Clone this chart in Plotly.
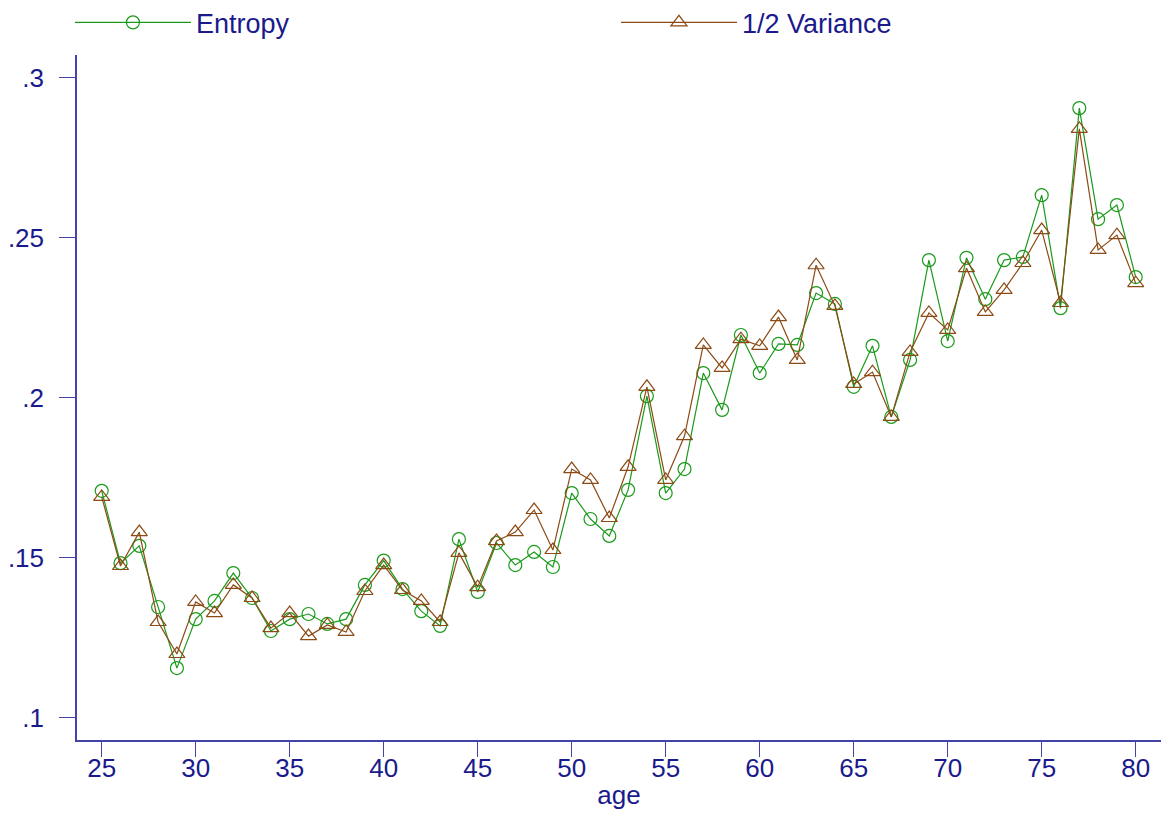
import plotly.graph_objects as go

age = list(range(25, 81))

entropy = [
    0.1709, 0.1483, 0.1537, 0.1346, 0.1155, 0.1308, 0.1365, 0.1452, 0.1374, 0.1271,
    0.1308, 0.1324, 0.1293, 0.1308, 0.1415, 0.1491, 0.1402, 0.1333, 0.1287, 0.1558,
    0.1393, 0.1546, 0.1477, 0.1518, 0.1471, 0.1702, 0.1621, 0.1568, 0.1712, 0.2005,
    0.1702, 0.1777, 0.2077, 0.1962, 0.2196, 0.2077, 0.2168, 0.2165, 0.2327, 0.2293,
    0.2034, 0.2162, 0.1940, 0.2118, 0.2430, 0.2177, 0.2437, 0.2308, 0.2430, 0.2440,
    0.2633, 0.2280, 0.2905, 0.2558, 0.2602, 0.2377,
]

half_variance = [
    0.1690, 0.1474, 0.1580, 0.1299, 0.1199, 0.1362, 0.1327, 0.1415, 0.1374, 0.1280,
    0.1327, 0.1255, 0.1290, 0.1268, 0.1396, 0.1477, 0.1399, 0.1365, 0.1299, 0.1515,
    0.1408, 0.1552, 0.1580, 0.1649, 0.1524, 0.1777, 0.1743, 0.1624, 0.1784, 0.2034,
    0.1743, 0.1880, 0.2165, 0.2093, 0.2183, 0.2162, 0.2252, 0.2118, 0.2414, 0.2287,
    0.2043, 0.2080, 0.1940, 0.2143, 0.2265, 0.2212, 0.2405, 0.2268, 0.2337, 0.2421,
    0.2524, 0.2296, 0.2840, 0.2462, 0.2508, 0.2358,
]

x_ticks = [25, 30, 35, 40, 45, 50, 55, 60, 65, 70, 75, 80]
y_ticks = [0.1, 0.15, 0.2, 0.25, 0.3]
y_tick_labels = [".1", ".15", ".2", ".25", ".3"]

GREEN = "#1a9a1a"
BROWN = "#8c4a14"
NAVY = "#1a1a8c"
AXIS = "#4444a8"
FONT = "Liberation Sans, Arial, sans-serif"

fig = go.Figure()
fig.add_trace(go.Scatter(
    x=age, y=entropy, name="Entropy", mode="lines+markers",
    line=dict(color=GREEN, width=1.2),
    marker=dict(symbol="circle-open", size=13, color=GREEN, line=dict(width=1.2)),
))
fig.add_trace(go.Scatter(
    x=age, y=half_variance, name="1/2 Variance", mode="lines+markers",
    line=dict(color=BROWN, width=1.2),
    marker=dict(symbol="triangle-up-open", size=14, color=BROWN, line=dict(width=1.2)),
))

fig.update_layout(
    width=1166, height=814,
    margin=dict(l=77, r=5, t=55, b=74, autoexpand=False),
    paper_bgcolor="white", plot_bgcolor="white",
    font=dict(family=FONT, size=26, color=NAVY),
    legend=dict(
        orientation="h", x=-0.0065, xanchor="left", y=1.047, yanchor="middle",
        itemwidth=116, entrywidth=415, entrywidthmode="pixels",
        font=dict(family=FONT, size=27, color=NAVY),
        bgcolor="rgba(0,0,0,0)", tracegroupgap=0,
    ),
    xaxis=dict(
        range=[23.686, 81.346], tickvals=x_ticks,
        showline=True, linecolor=AXIS, linewidth=1.5, mirror=False,
        ticks="outside", ticklen=15, tickcolor=AXIS, tickwidth=1,
        showgrid=False, zeroline=False,
        tickfont=dict(family=FONT, size=26, color=NAVY),
        ticklabelstandoff=-11,
        title=dict(text="age", font=dict(family=FONT, size=26, color=NAVY), standoff=4),
    ),
    yaxis=dict(
        range=[0.09303, 0.3071], tickvals=y_ticks, ticktext=y_tick_labels,
        showline=True, linecolor=AXIS, linewidth=1.5,
        ticks="outside", ticklen=16, tickcolor=AXIS, tickwidth=1,
        showgrid=False, zeroline=False,
        tickfont=dict(family=FONT, size=26, color=NAVY),
        ticklabelstandoff=10,
    ),
)

fig.write_html("out.html")
